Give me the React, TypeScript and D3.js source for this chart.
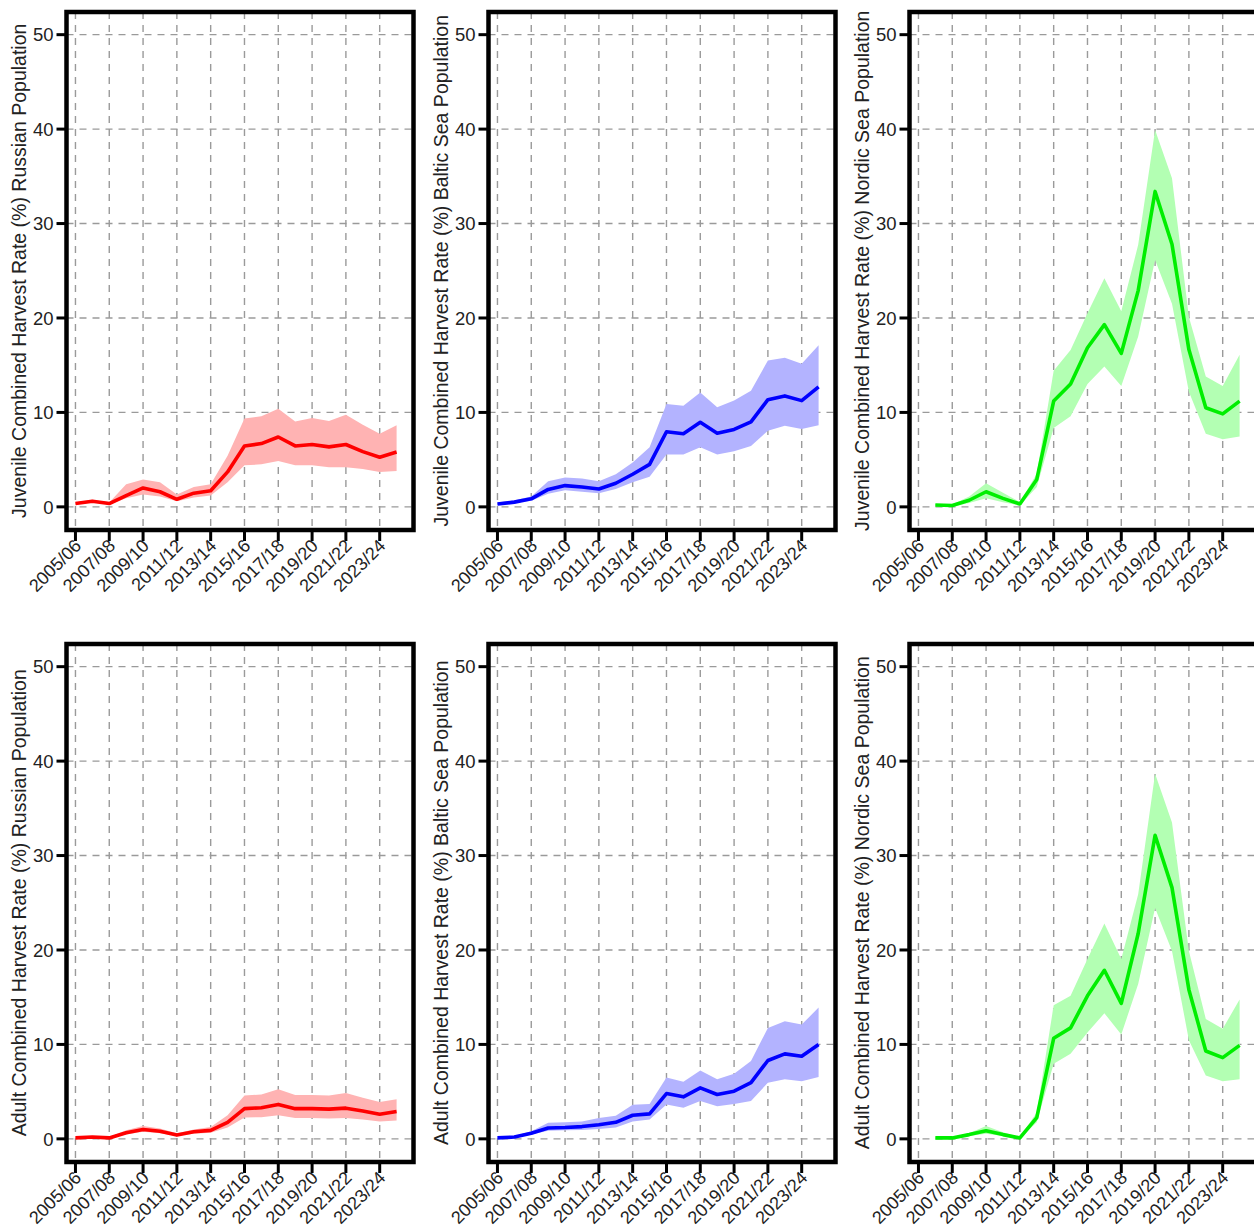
import React from 'react';
import * as d3 from 'd3';

// seasons 2005/06 .. 2024/25
const seasons = [
  '2005/06', '2006/07', '2007/08', '2008/09', '2009/10', '2010/11', '2011/12', '2012/13', '2013/14', '2014/15',
  '2015/16', '2016/17', '2017/18', '2018/19', '2019/20', '2020/21', '2021/22', '2022/23', '2023/24', '2024/25',
];
const yTicks = [0, 10, 20, 30, 40, 50];

// juvenile
const juvRussianMean = [0.35, 0.6, 0.35, 1.2, 2.0, 1.6, 0.8, 1.45, 1.7, 3.7, 6.45, 6.7, 7.4, 6.45, 6.6, 6.35, 6.6, 5.85, 5.25, 5.8];
const juvRussianHigh = [0.45, 0.75, 0.45, 2.4, 2.9, 2.6, 1.3, 2.1, 2.4, 5.4, 9.35, 9.6, 10.4, 9.05, 9.4, 9.1, 9.75, 8.7, 7.75, 8.65];
const juvRussianLow = [0.25, 0.45, 0.25, 0.9, 1.3, 1.1, 0.6, 1.0, 1.2, 2.6, 4.4, 4.5, 4.85, 4.4, 4.4, 4.2, 4.2, 4.0, 3.7, 3.8];

const juvBalticMean = [0.3, 0.5, 0.85, 1.85, 2.25, 2.1, 1.9, 2.5, 3.45, 4.5, 7.95, 7.75, 8.95, 7.8, 8.2, 9.0, 11.35, 11.75, 11.25, 12.7];
const juvBalticHigh = [0.45, 0.7, 1.1, 2.7, 3.1, 3.0, 2.7, 3.45, 4.7, 6.3, 10.9, 10.7, 12.1, 10.55, 11.25, 12.3, 15.5, 15.8, 15.15, 17.1];
const juvBalticLow = [0.2, 0.4, 0.65, 1.4, 1.75, 1.6, 1.45, 1.9, 2.6, 3.2, 5.55, 5.55, 6.3, 5.55, 5.9, 6.45, 8.05, 8.6, 8.25, 8.65];

const juvNordicMean = [null, 0.2, 0.15, 0.7, 1.6, 0.9, 0.3, 2.9, 11.2, 13.0, 16.85, 19.3, 16.25, 22.9, 33.4, 27.8, 16.65, 10.5, 9.85, 11.2];
const juvNordicHigh = [null, 0.3, 0.25, 1.1, 2.5, 1.5, 0.5, 3.5, 14.4, 16.6, 20.5, 24.2, 20.7, 27.75, 39.9, 34.8, 20.1, 13.8, 12.8, 16.1];
const juvNordicLow = [null, 0.1, 0.05, 0.4, 0.9, 0.5, 0.15, 2.1, 8.35, 9.6, 13.0, 14.85, 12.8, 18.05, 26.15, 21.5, 12.2, 7.75, 7.15, 7.45];

// adult
const adRussianMean = [0.1, 0.2, 0.1, 0.65, 1.0, 0.8, 0.4, 0.75, 0.9, 1.75, 3.2, 3.3, 3.65, 3.2, 3.2, 3.15, 3.25, 2.95, 2.6, 2.9];
const adRussianHigh = [0.2, 0.3, 0.2, 0.9, 1.35, 1.1, 0.6, 1.0, 1.25, 2.5, 4.6, 4.7, 5.25, 4.65, 4.65, 4.6, 4.85, 4.35, 3.9, 4.2];
const adRussianLow = [0.05, 0.1, 0.05, 0.45, 0.75, 0.6, 0.3, 0.55, 0.65, 1.2, 2.25, 2.3, 2.5, 2.2, 2.2, 2.15, 2.2, 2.05, 1.85, 1.95];

const adBalticMean = [0.1, 0.2, 0.6, 1.15, 1.2, 1.3, 1.5, 1.75, 2.5, 2.65, 4.8, 4.45, 5.4, 4.7, 5.05, 5.95, 8.3, 9.0, 8.75, 10.0];
const adBalticHigh = [0.15, 0.3, 0.8, 1.7, 1.75, 1.85, 2.2, 2.45, 3.6, 3.7, 6.5, 6.05, 7.25, 6.3, 6.9, 8.25, 11.75, 12.45, 12.1, 13.9];
const adBalticLow = [0.05, 0.1, 0.45, 0.85, 0.9, 0.95, 1.05, 1.2, 1.85, 2.05, 3.65, 3.3, 4.0, 3.45, 3.7, 4.0, 5.95, 6.3, 6.1, 6.55];

const adNordicMean = [null, 0.1, 0.1, 0.45, 0.85, 0.45, 0.1, 2.25, 10.65, 11.75, 15.15, 17.85, 14.35, 21.75, 32.15, 26.6, 15.8, 9.3, 8.6, 9.9];
const adNordicHigh = [null, 0.2, 0.2, 0.6, 1.35, 0.7, 0.2, 2.8, 14.15, 15.15, 19.05, 22.8, 19.05, 25.9, 38.65, 33.5, 19.9, 12.7, 11.65, 14.75];
const adNordicLow = [null, 0.05, 0.05, 0.3, 0.55, 0.3, 0.05, 1.75, 7.95, 9.0, 11.25, 13.3, 11.05, 16.4, 24.45, 19.9, 10.45, 6.7, 6.1, 6.3];

const panels = [
  { row: 0, col: 0, label: 'Juvenile Combined Harvest Rate (%) Russian Population', mean: juvRussianMean, low: juvRussianLow, high: juvRussianHigh, line: '#ff0000', band: '#ffb3b3' },
  { row: 0, col: 1, label: 'Juvenile Combined Harvest Rate (%) Baltic Sea Population', mean: juvBalticMean, low: juvBalticLow, high: juvBalticHigh, line: '#0000ff', band: '#b3b3ff' },
  { row: 0, col: 2, label: 'Juvenile Combined Harvest Rate (%) Nordic Sea Population', mean: juvNordicMean, low: juvNordicLow, high: juvNordicHigh, line: '#00ee00', band: '#b3ffb3' },
  { row: 1, col: 0, label: 'Adult Combined Harvest Rate (%) Russian Population', mean: adRussianMean, low: adRussianLow, high: adRussianHigh, line: '#ff0000', band: '#ffb3b3' },
  { row: 1, col: 1, label: 'Adult Combined Harvest Rate (%) Baltic Sea Population', mean: adBalticMean, low: adBalticLow, high: adBalticHigh, line: '#0000ff', band: '#b3b3ff' },
  { row: 1, col: 2, label: 'Adult Combined Harvest Rate (%) Nordic Sea Population', mean: adNordicMean, low: adNordicLow, high: adNordicHigh, line: '#00ee00', band: '#b3ffb3' },
];

const colOffset = [0, 422, 843];
const rowOffset = [0, 632];
const FONT = 'Liberation Sans, Arial, sans-serif';

function Panel({ p }: { p: any }) {
  const dx = colOffset[p.col];
  const dy = rowOffset[p.row];
  const left = 66.5 + dx;
  const right = 413.5 + dx;
  const top = 12 + dy;
  const bottom = 530 + dy;

  const x = d3.scaleLinear().domain([-0.53, 20.0]).range([left, right]);
  const y = d3.scaleLinear().domain([-2.45, 52.4]).range([bottom, top]);

  const idx = d3.range(seasons.length);
  const labelled = idx.filter(i => i % 2 === 0 && i < 19);

  const area = d3.area<number>()
    .defined(i => p.mean[i] != null)
    .x(i => x(i))
    .y0(i => y(p.low[i]))
    .y1(i => y(p.high[i]));
  const line = d3.line<number>()
    .defined(i => p.mean[i] != null)
    .x(i => x(i))
    .y(i => y(p.mean[i]));

  const midY = (y(0) + y(50)) / 2;

  return (
    <g>
      {/* grid */}
      {yTicks.map(t => (
        <line key={'gy' + t} x1={left} x2={right} y1={y(t)} y2={y(t)} stroke="#9a9a9a" strokeWidth={1.4} strokeDasharray="7,6" />
      ))}
      {labelled.map(i => (
        <line key={'gx' + i} x1={x(i)} x2={x(i)} y1={top} y2={bottom} stroke="#9a9a9a" strokeWidth={1.4} strokeDasharray="7,6" />
      ))}
      <path d={area(idx) || ''} fill={p.band} stroke="none" />
      <path d={line(idx) || ''} fill="none" stroke={p.line} strokeWidth={3.6} strokeLinejoin="round" />
      <rect x={left} y={top} width={right - left} height={bottom - top} fill="none" stroke="#000" strokeWidth={4.5} />
      {/* y axis */}
      {yTicks.map(t => (
        <g key={'yt' + t}>
          <line x1={left - 10} x2={left} y1={y(t)} y2={y(t)} stroke="#000" strokeWidth={3} />
          <text x={left - 13} y={y(t)} dy="0.36em" textAnchor="end" fontSize={18.5} fontFamily={FONT} fill="#222">{t}</text>
        </g>
      ))}
      {/* x axis */}
      {labelled.map(i => (
        <g key={'xt' + i}>
          <line x1={x(i)} x2={x(i)} y1={bottom} y2={bottom + 11} stroke="#000" strokeWidth={3} />
          <text transform={`translate(${x(i) + 7},${bottom + 17}) rotate(-45)`} textAnchor="end" fontSize={18} fontFamily={FONT} fill="#222">{seasons[i]}</text>
        </g>
      ))}
      <text transform={`translate(${dx + 26},${midY}) rotate(-90)`} textAnchor="middle" fontSize={19.5} fontFamily={FONT} fill="#222">{p.label}</text>
    </g>
  );
}

export default function App() {
  return (
    <svg width={1254} height={1231} style={{ position: 'absolute', left: 0, top: 0, background: '#fff' }}>
      {panels.map((p, k) => <Panel key={k} p={p} />)}
    </svg>
  );
}
